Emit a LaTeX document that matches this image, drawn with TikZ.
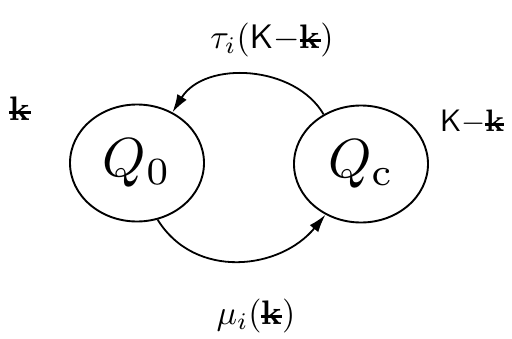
\documentclass[tikz,border=0pt]{standalone}
\usepackage{graphicx}
\usetikzlibrary{arrows.meta,shapes.geometric}
\newcommand{\kst}{\ooalign{\hidewidth\raisebox{0.42ex}{\rule{0.62em}{0.09em}}\hidewidth\cr\textbf{k}}}
\begin{document}
\begin{tikzpicture}[x=1pt,y=-1pt,
  state/.style={draw,line width=1.9pt,ellipse,minimum width=134pt,minimum height=117pt,inner sep=0pt},
  lab/.style={inner sep=0pt},
  conn/.style={line width=1.8pt,-{Latex[length=18pt,width=11pt]}}]
\useasboundingbox (0,0) rectangle (512,338);
\node[state] (q0) at (137,163) {\scalebox{5.5}{$Q_{\scriptstyle 0}$}};
\node[state] (qc) at (361,164) {\scalebox{5.5}{$Q_{\scriptstyle\mathrm{c}}$}};
\draw[conn] (qc.127) .. controls (295,65) and (205,60) .. (q0.55);
\draw[conn] (q0.-70) .. controls (195,280) and (280,270) .. (qc.-125);
\node[lab] (top) at (272,40) {\scalebox{3.4}{$\tau_i(\mathsf{K}\mathord{-}\kst)$}};
\node[lab] (bot) at (256,316) {\scalebox{3.4}{$\mu_i(\kst)$}};
\node[lab] (left) at (20,116) {\scalebox{3.4}{\kst}};
\node[lab] (right) at (472,122) {\scalebox{3.1}{$\mathsf{K}\mathord{-}\kst$}};
\end{tikzpicture}
\end{document}
